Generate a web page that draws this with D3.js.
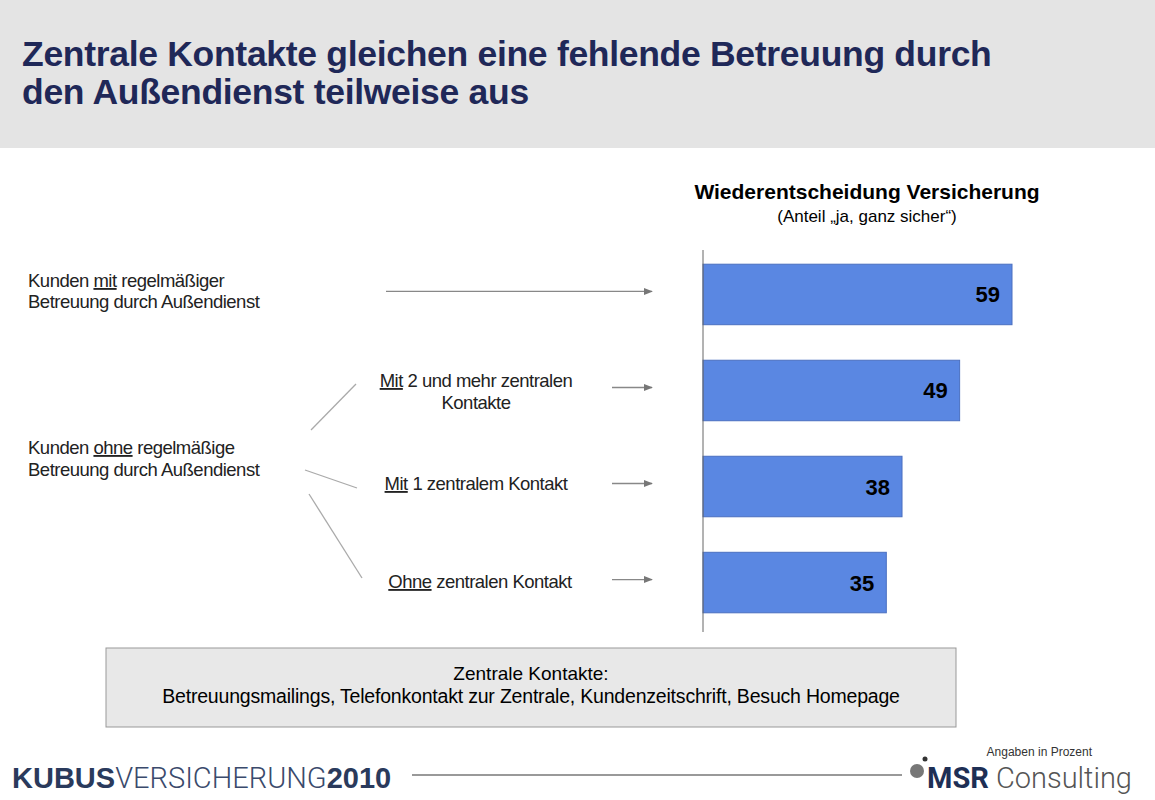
<!DOCTYPE html>
<html><head><meta charset="utf-8">
<script src="https://cdn.jsdelivr.net/npm/d3@7"></script>
<style>body{margin:0;background:#fff;font-family:Arial,"Liberation Sans",sans-serif}</style>
</head><body><svg id="c" width="1155" height="800"></svg>
<script>
const categories = ['mit', 'zwei', 'eins', 'ohne'];
const values = [59, 49, 38, 35];

const svg = d3.select('#c');
const x = d3.scaleLinear().domain([0, 59]).range([703, 1012]);
const y = d3.scaleBand().domain(categories).range([245, 632]).paddingInner(0.37).paddingOuter(0.2);

// header
svg.append('rect').attr('width', 1155).attr('height', 148).attr('fill', '#e4e4e4');
svg.append('text').attr('x', 22).attr('y', 66).attr('fill', '#1f2858').attr('font-size', 35.5).attr('font-weight', 'bold')
    .attr('letter-spacing', '-0.3').text('Zentrale Kontakte gleichen eine fehlende Betreuung durch');
svg.append('text').attr('x', 22).attr('y', 104).attr('fill', '#1f2858').attr('font-size', 35.5).attr('font-weight', 'bold')
    .attr('letter-spacing', '-0.3').text('den Außendienst teilweise aus');

// chart title
svg.append('text').attr('x', 867).attr('y', 199).attr('text-anchor', 'middle').attr('font-size', 21).attr('font-weight', 'bold')
    .text('Wiederentscheidung Versicherung');
svg.append('text').attr('x', 867).attr('y', 222).attr('text-anchor', 'middle').attr('font-size', 17)
    .text('(Anteil \u201eja, ganz sicher\u201c)');

// bars
svg.selectAll('rect.bar').data(values).join('rect').attr('class', 'bar')
    .attr('x', x(0)).attr('y', (d, i) => y(categories[i]))
    .attr('width', d => x(d) - x(0)).attr('height', y.bandwidth())
    .attr('fill', '#5a87e2').attr('stroke', '#4a6fc0');
svg.selectAll('text.val').data(values).join('text').attr('class', 'val')
    .attr('x', d => x(d) - 12).attr('y', (d, i) => y(categories[i]) + y.bandwidth() / 2 + 8)
    .attr('text-anchor', 'end').attr('font-size', 22).attr('font-weight', 'bold').text(d => d);
svg.append('line').attr('x1', x(0)).attr('x2', x(0)).attr('y1', 250).attr('y2', 632).attr('stroke', '#666');

// arrows
svg.append('defs').append('marker').attr('id', 'ah').attr('viewBox', '0 0 10 10').attr('refX', 9).attr('refY', 5)
    .attr('markerWidth', 7).attr('markerHeight', 7).attr('orient', 'auto')
    .append('path').attr('d', 'M0,1L10,5L0,9z').attr('fill', '#777');
const arrowStart = [386, 612, 612, 612];
categories.forEach((c, i) => {
    const cy = y(c) + y.bandwidth() / 2 - 3;
    svg.append('line').attr('x1', arrowStart[i]).attr('x2', 652).attr('y1', cy).attr('y2', cy)
        .attr('stroke', '#888').attr('stroke-width', 1.3).attr('marker-end', 'url(#ah)');
});

// left labels with underlined words
function label(xp, yp, parts, anchor) {
    const t = svg.append('text').attr('x', xp).attr('y', yp).attr('font-size', 18.5).attr('fill', '#222')
        .attr('text-anchor', anchor || 'start').attr('letter-spacing', '-0.5');
    parts.forEach(p => t.append('tspan').attr('text-decoration', p[1] ? 'underline' : null).text(p[0]));
}
label(28, 287, [['Kunden '], ['mit', 1], [' regelmäßiger']]);
label(28, 308, [['Betreuung durch Außendienst']]);
label(28, 454, [['Kunden '], ['ohne', 1], [' regelmäßige']]);
label(28, 476, [['Betreuung durch Außendienst']]);
label(476, 387, [['Mit', 1], [' 2 und mehr zentralen']], 'middle');
label(476, 409, [['Kontakte']], 'middle');
label(476, 490, [['Mit', 1], [' 1 zentralem Kontakt']], 'middle');
label(480, 588, [['Ohne', 1], [' zentralen Kontakt']], 'middle');

// connector lines
const lines = [[311, 430, 356, 384], [305, 470, 357, 488], [309, 494, 362, 578]];
lines.forEach(l => svg.append('line').attr('x1', l[0]).attr('y1', l[1]).attr('x2', l[2]).attr('y2', l[3])
    .attr('stroke', '#aaa').attr('stroke-width', 1.3));

// note box
svg.append('rect').attr('x', 106).attr('y', 648).attr('width', 850).attr('height', 79)
    .attr('fill', '#e8e8e8').attr('stroke', '#999');
svg.append('text').attr('x', 531).attr('y', 680).attr('text-anchor', 'middle').attr('font-size', 19).text('Zentrale Kontakte:');
svg.append('text').attr('x', 531).attr('y', 703).attr('text-anchor', 'middle').attr('font-size', 19.5).attr('letter-spacing', '-0.2')
    .text('Betreuungsmailings, Telefonkontakt zur Zentrale, Kundenzeitschrift, Besuch Homepage');

// footer
const f = svg.append('text').attr('x', 12).attr('y', 788).attr('font-size', 29).attr('fill', '#2a3a5c');
f.append('tspan').attr('font-weight', 'bold').text('KUBUS');
f.append('tspan').attr('font-weight', '300').attr('font-family', 'Roboto').attr('fill', '#3a4a6c').text('VERSICHERUNG');
f.append('tspan').attr('font-weight', 'bold').text('2010');
svg.append('line').attr('x1', 412).attr('x2', 902).attr('y1', 775).attr('y2', 775).attr('stroke', '#777').attr('stroke-width', 1.5);
svg.append('circle').attr('cx', 917).attr('cy', 771).attr('r', 7).attr('fill', '#777');
svg.append('circle').attr('cx', 925).attr('cy', 759).attr('r', 2.5).attr('fill', '#333');
svg.append('text').attr('x', 1092).attr('y', 756).attr('text-anchor', 'end').attr('font-size', 12).attr('fill', '#333').text('Angaben in Prozent');
const m = svg.append('text').attr('x', 927).attr('y', 788).attr('font-size', 29).attr('fill', '#555').attr('font-family', 'Roboto');
m.append('tspan').attr('font-weight', 'bold').attr('fill', '#1e2f55').text('MSR');
m.append('tspan').attr('font-weight', '300').text(' Consulting');
</script></body></html>
